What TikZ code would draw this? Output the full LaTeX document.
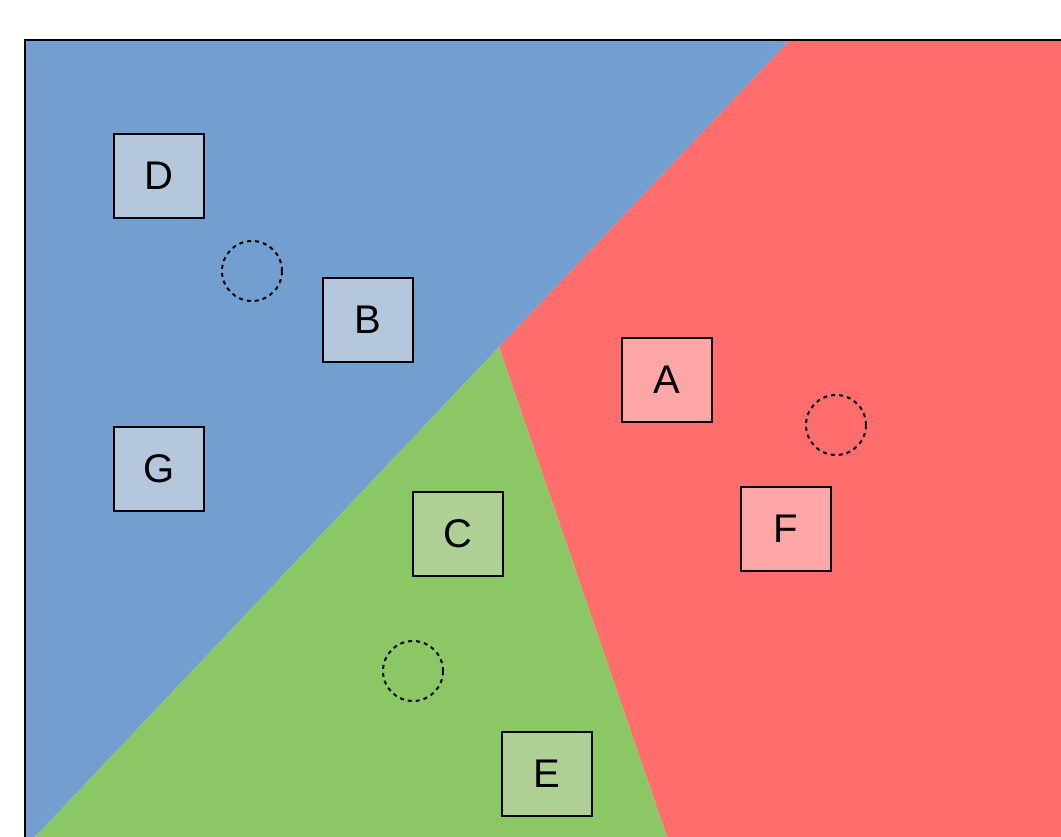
\documentclass[tikz,border=0pt]{standalone}
\usepackage{fontspec}
\setmainfont{Liberation Sans}
\definecolor{zblue}{HTML}{729FCF}
\definecolor{zred}{HTML}{FF6D6D}
\definecolor{zgreen}{HTML}{8BC765}
\definecolor{lblue}{HTML}{B4C7DC}
\definecolor{lred}{HTML}{FFA6A6}
\definecolor{lgreen}{HTML}{AFD095}
\newcommand{\lowtxt}[1]{\raisebox{-3pt}{#1}}
\tikzset{
  box/.style={draw=black, line width=2pt, minimum width=90pt, minimum height=84pt, inner sep=0pt, font=\fontsize{40}{40}\selectfont},
  bbox/.style={box, fill=lblue},
  rbox/.style={box, fill=lred},
  gbox/.style={box, fill=lgreen},
  ring/.style={draw=black, line width=2pt, dash pattern=on 4pt off 4pt, circle, minimum size=60pt, inner sep=0pt},
}
\begin{document}
\begin{tikzpicture}[x=1pt,y=-1pt]
\useasboundingbox (0,0) rectangle (1061,837);
\coordinate (v) at (499,347);
\coordinate (tl) at (25,40);
\coordinate (tm) at (790,40);
\coordinate (tr) at (1061,40);
\coordinate (bl) at (25,837);
\coordinate (bb) at (35,837);
\coordinate (bm) at (667,837);
\coordinate (br) at (1061,837);
\fill[zblue] (tl) -- (tm) -- (v) -- (bb) -- (bl) -- cycle;
\fill[zred] (tm) -- (tr) -- (br) -- (bm) -- (v) -- cycle;
\fill[zgreen] (v) -- (bm) -- (bb) -- cycle;
\draw[line width=2.5pt] (bl) -- (tl) -- (tr);
\node[bbox] (D) at (159,176) {\lowtxt{D}};
\node[bbox] (B) at (368,320) {\lowtxt{B}};
\node[bbox] (G) at (159,469) {\lowtxt{G}};
\node[gbox] (C) at (458,534) {\lowtxt{C}};
\node[gbox] (E) at (547,774) {\lowtxt{E}};
\node[rbox] (A) at (667,380) {\lowtxt{A}};
\node[rbox] (F) at (786,529) {\lowtxt{F}};
\node[ring] (c1) at (252,271) {};
\node[ring] (c2) at (836,425) {};
\node[ring] (c3) at (413,671) {};
\end{tikzpicture}
\end{document}
